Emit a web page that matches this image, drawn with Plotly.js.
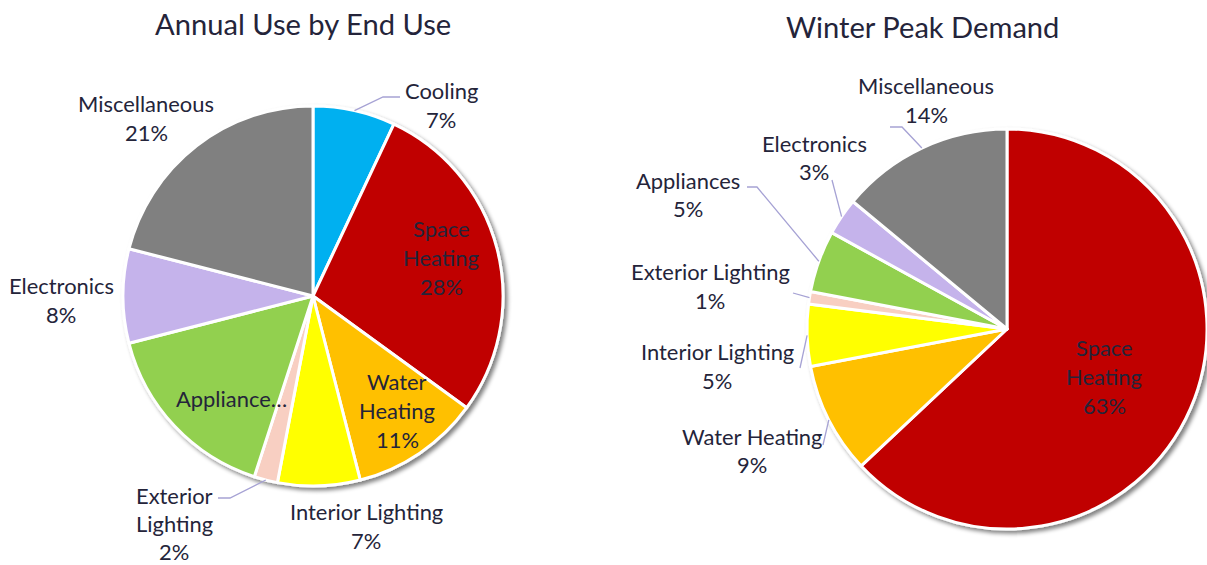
<!DOCTYPE html>
<html><head><meta charset="utf-8">
<script src="https://cdn.plot.ly/plotly-3.0.1.min.js"></script>
<style>html,body{margin:0;padding:0;background:#fff;overflow:hidden}#chart{width:1207px;height:565px}</style>
</head><body><div id="chart"></div>
<script>
// ---- data ----
const categories = ["Cooling","Space Heating","Water Heating","Interior Lighting","Exterior Lighting","Appliances","Electronics","Miscellaneous"];
const annualUse  = [7, 28, 11, 7, 2, 16, 8, 21];
const winterPeak = [0, 63, 9, 5, 1, 5, 3, 14];
const sliceColors = ["#00B0F0","#C00000","#FFC000","#FFFF00","#F8CFC2","#92D050","#C5B3EB","#808080"];
const titles = ["Annual Use by End Use","Winter Peak Demand"];

// ---- layout / styling ----
const W = 1207, H = 565;
const FAMILY = "Lato, 'Open Sans', sans-serif";
const TXT = "#24243a";
const LEADER = "#A6A2D4";
const pies = [
  {values: annualUse,  cx: 313,  cy: 296, r: 190, titleX: 303, titleY: 23},
  {values: winterPeak, cx: 1007, cy: 329, r: 200, titleX: 922, titleY: 26}
];
const labelLayout = [
  {
    "Cooling":           {x: 441, y: 90,  leader: [[383, 97], [400, 97]]},
    "Space Heating":     {x: 441, y: 228, split: true},
    "Water Heating":     {x: 397, y: 381, split: true},
    "Interior Lighting": {x: 366, y: 511},
    "Exterior Lighting": {x: 174, y: 495, split: true, gap: 28, leader: [[230, 498], [218, 498]]},
    "Appliances":        {x: 231, y: 398, truncate: "Appliance\u2026"},
    "Electronics":       {x: 61,  y: 285},
    "Miscellaneous":     {x: 146, y: 103}
  },
  {
    "Space Heating":     {x: 1104, y: 347, split: true},
    "Water Heating":     {x: 752, y: 436, leader: [[823, 445]]},
    "Interior Lighting": {x: 717, y: 351, leader: [[800, 368]]},
    "Exterior Lighting": {x: 710, y: 271, leader: [[793, 293]]},
    "Appliances":        {x: 688, y: 180, leader: [[757, 187], [747, 187]]},
    "Electronics":       {x: 814, y: 143, leader: [[832, 180]]},
    "Miscellaneous":     {x: 926, y: 85,  leader: [[902, 127], [890, 127]]}
  }
];
const LINE_GAP = 29;

function fit(text, target, base) {
  const c = document.createElement('canvas').getContext('2d');
  c.font = base + "px Lato";
  return base * target / c.measureText(text).width;
}
const labelSize = fit("Electronics", 105, 20);
const titleSize = fit("Annual Use by End Use", 297, 26);

const px = x => x / W, py = y => 1 - y / H;

const traces = [], annotations = [], shapes = [];
pies.forEach((p, k) => {
  traces.push({
    type: 'pie', labels: categories, values: p.values, sort: false,
    direction: 'clockwise', rotation: 0,
    marker: {colors: sliceColors, line: {color: '#ffffff', width: 3}},
    textinfo: 'none', hoverinfo: 'none', showlegend: false,
    domain: {x: [px(p.cx - p.r), Math.min(1, px(p.cx + p.r))], y: [py(p.cy + p.r), py(p.cy - p.r)]}
  });
  annotations.push({
    xref: 'paper', yref: 'paper', x: px(p.titleX), y: py(p.titleY),
    xanchor: 'center', yanchor: 'middle', showarrow: false, text: titles[k],
    font: {family: FAMILY, size: titleSize, color: TXT}
  });
  const total = p.values.reduce((a, b) => a + b, 0);
  let cum = 0;
  categories.forEach((cat, i) => {
    const v = p.values[i];
    const mid = (cum + v / 2) / total;
    cum += v;
    const cfg = labelLayout[k][cat];
    if (!cfg || v <= 0) return;
    let lines;
    if (cfg.truncate) lines = [cfg.truncate];
    else {
      lines = cfg.split ? cat.split(' ') : [cat];
      lines.push(Math.round(v / total * 100) + '%');
    }
    const gap = cfg.gap || LINE_GAP;
    lines.forEach((t, j) => {
      annotations.push({
        xref: 'paper', yref: 'paper', x: px(cfg.x), y: py(cfg.y + j * gap),
        xanchor: 'center', yanchor: 'middle', showarrow: false, text: t,
        font: {family: FAMILY, size: labelSize, color: TXT}
      });
    });
    if (cfg.leader) {
      const th = mid * 2 * Math.PI;
      const sx = p.cx + p.r * Math.sin(th), sy = p.cy - p.r * Math.cos(th);
      let d = 'M ' + px(sx) + ' ' + py(sy);
      cfg.leader.forEach(pt => { d += ' L ' + px(pt[0]) + ' ' + py(pt[1]); });
      shapes.push({type: 'path', xref: 'paper', yref: 'paper', path: d, line: {color: LEADER, width: 1.3}});
    }
  });
});

const layout = {
  width: W, height: H, margin: {l: 0, r: 0, t: 0, b: 0},
  paper_bgcolor: '#ffffff', plot_bgcolor: '#ffffff',
  font: {family: FAMILY, color: TXT},
  annotations: annotations, shapes: shapes, showlegend: false
};

Plotly.newPlot('chart', traces, layout, {staticPlot: true, displayModeBar: false}).then(gd => {
  const svg = gd.querySelector('.main-svg');
  const ns = 'http://www.w3.org/2000/svg';
  let defs = svg.querySelector('defs');
  if (!defs) { defs = document.createElementNS(ns, 'defs'); svg.insertBefore(defs, svg.firstChild); }
  const f = document.createElementNS(ns, 'filter');
  f.setAttribute('id', 'pieShadow');
  f.setAttribute('x', '-10%'); f.setAttribute('y', '-10%');
  f.setAttribute('width', '130%'); f.setAttribute('height', '130%');
  f.innerHTML = '<feGaussianBlur in="SourceAlpha" stdDeviation="2.2"/>' +
    '<feOffset dx="3" dy="3" result="ob"/>' +
    '<feComponentTransfer><feFuncA type="linear" slope="0.5"/></feComponentTransfer>' +
    '<feMerge><feMergeNode/><feMergeNode in="SourceGraphic"/></feMerge>';
  defs.appendChild(f);
  gd.querySelectorAll('.pielayer .trace').forEach(g => g.setAttribute('filter', 'url(#pieShadow)'));
});
</script>
</body></html>
